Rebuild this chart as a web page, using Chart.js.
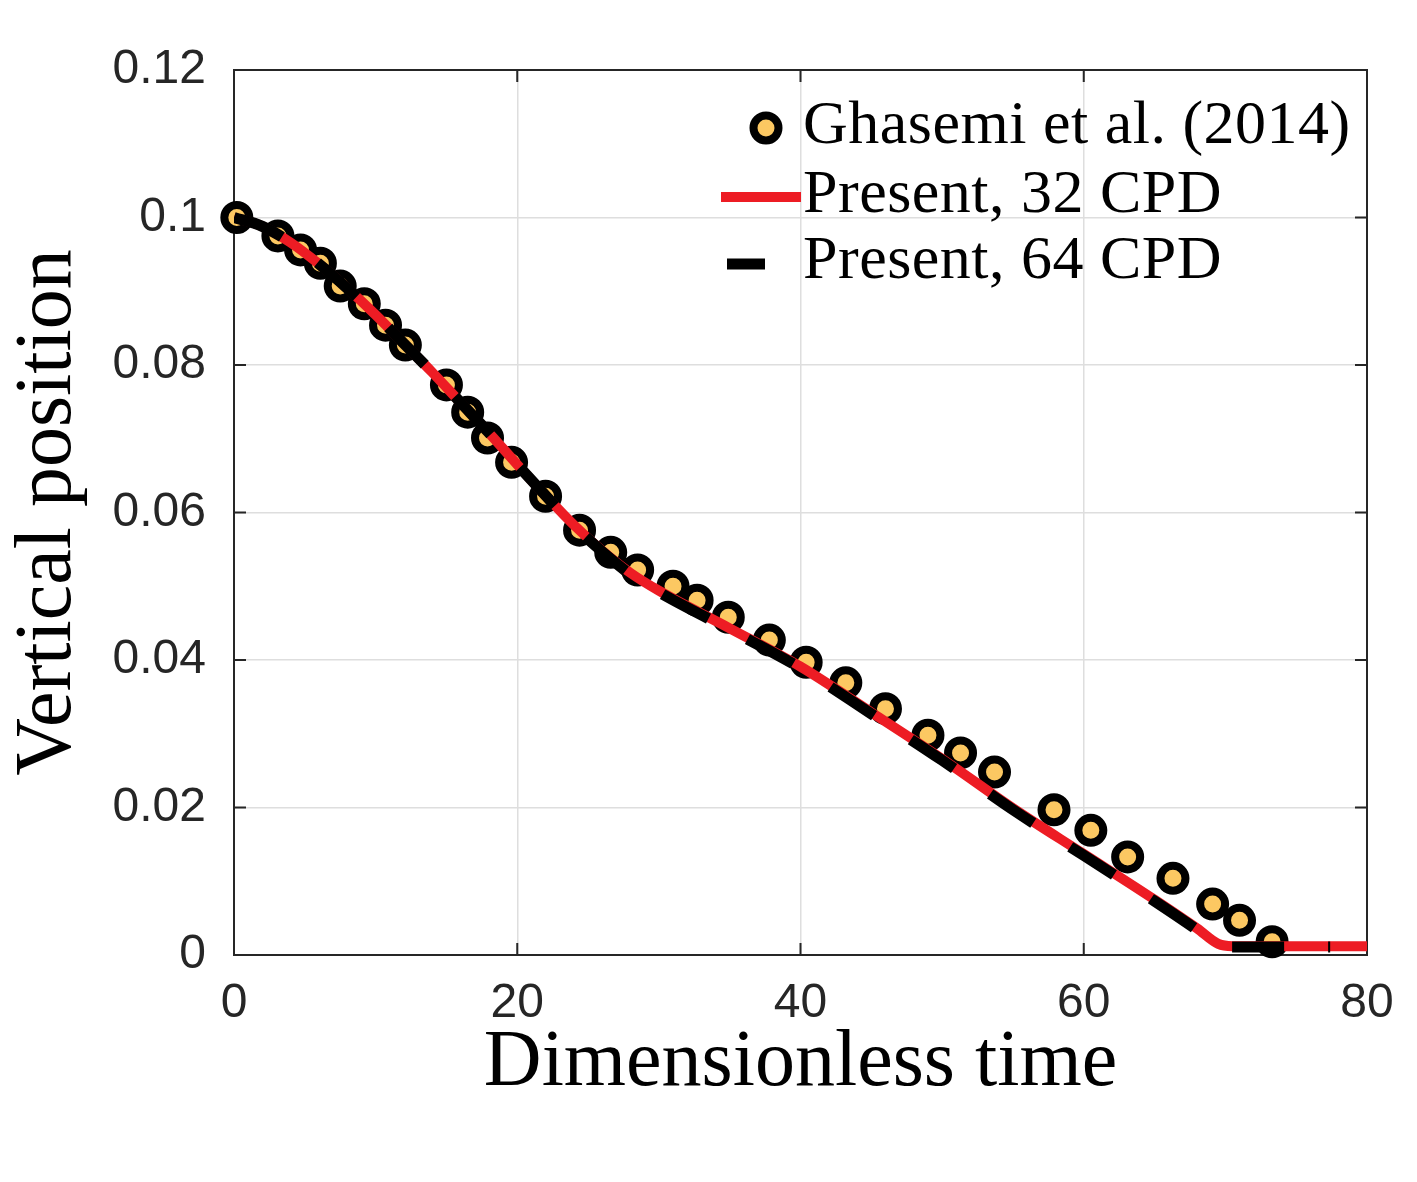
<!DOCTYPE html>
<html>
<head>
<meta charset="utf-8">
<script src="https://cdn.jsdelivr.net/npm/chart.js@4.4.1/dist/chart.umd.min.js"></script>
<style>
  html, body { margin: 0; padding: 0; background: #fff; }
  #wrap { width: 1417px; height: 1182px; }
</style>
</head>
<body>
<div id="wrap"><canvas id="myChart"></canvas></div>
<script>
// reference data (Ghasemi et al. 2014)
const refTime = [0.2, 3.1, 4.7, 6.1, 7.5, 9.2, 10.7, 12.1, 15.0, 16.5, 17.9, 19.6, 22.0, 24.4, 26.6, 28.5,
    31.0, 32.7, 34.9, 37.8, 40.4, 43.2, 46.0, 49.0, 51.3, 53.7, 57.9, 60.5, 63.1, 66.3, 69.1, 71.0, 73.3];
const refPos = [0.1, 0.0975, 0.0956, 0.0938, 0.0907, 0.0883, 0.0854, 0.0827, 0.0773, 0.0736, 0.0701, 0.0668,
    0.0622, 0.0576, 0.0546, 0.0522, 0.0500, 0.0481, 0.0458, 0.0427, 0.0397, 0.0369, 0.0334, 0.0298, 0.0274,
    0.0248, 0.0197, 0.0169, 0.0133, 0.0104, 0.0069, 0.0047, 0.0018];

// present results, 32 CPD
const time32 = [0, 2, 4, 6, 8, 10, 12, 14, 16, 18, 20, 22, 24, 26, 28, 30, 35, 40, 45, 50, 55, 60, 65, 68, 69.5, 70.5, 75, 80];
const pos32 = [0.1, 0.0988, 0.0966, 0.0937, 0.0904, 0.0868, 0.0829, 0.0790, 0.0749, 0.0708, 0.0665, 0.0623,
    0.0583, 0.0548, 0.0518, 0.0494, 0.0443, 0.0391, 0.0329, 0.0266, 0.0199, 0.0137, 0.0075, 0.0036, 0.0015, 0.0012, 0.0012, 0.0012];

// present results, 64 CPD
const time64 = [0, 2, 4, 6, 8, 10, 12, 14, 16, 18, 20, 22, 24, 26, 28, 30, 35, 40, 45, 50, 55, 60, 65, 68, 69.5, 70.5, 75, 77.4];
const pos64 = [0.1, 0.0988, 0.0966, 0.0937, 0.0904, 0.0868, 0.0829, 0.0790, 0.0749, 0.0708, 0.0665, 0.0623,
    0.0582, 0.0547, 0.0516, 0.0492, 0.0441, 0.0389, 0.0327, 0.0264, 0.0197, 0.0135, 0.0073, 0.0034, 0.0013, 0.0011, 0.0011, 0.0011];

const xTicks = [0, 20, 40, 60, 80];
const yTickLabels = ['0', '0.02', '0.04', '0.06', '0.08', '0.1', '0.12'];

const legendLabels = ['Ghasemi et al. (2014)', 'Present, 32 CPD', 'Present, 64 CPD'];

const axisColor = '#262626';
const toXY = (xs, ys) => xs.map((x, i) => ({x: x, y: ys[i]}));

// box around the plot + inward ticks (matlab style)
const boxPlugin = {
    id: 'box',
    beforeDatasetsDraw(chart) {
        const {ctx, chartArea: a, scales} = chart;
        ctx.save();
        ctx.strokeStyle = axisColor;
        ctx.lineWidth = 2;
        ctx.strokeRect(a.left, a.top, a.right - a.left, a.bottom - a.top);
        const len = 12;
        ctx.beginPath();
        scales.x.ticks.forEach(t => {
            const px = scales.x.getPixelForValue(t.value);
            ctx.moveTo(px, a.bottom); ctx.lineTo(px, a.bottom - len);
            ctx.moveTo(px, a.top); ctx.lineTo(px, a.top + len);
        });
        scales.y.ticks.forEach(t => {
            const py = scales.y.getPixelForValue(t.value);
            ctx.moveTo(a.left, py); ctx.lineTo(a.left + len, py);
            ctx.moveTo(a.right, py); ctx.lineTo(a.right - len, py);
        });
        ctx.stroke();
        ctx.restore();
    }
};

// legend inside the axes, top right
const legendPlugin = {
    id: 'innerLegend',
    afterDraw(chart) {
        const {ctx, chartArea: a} = chart;
        const ds = chart.data.datasets;
        const tx = a.left + 569;
        ctx.save();
        ctx.font = '62px "Liberation Serif", "Times New Roman", serif';
        ctx.fillStyle = '#000';
        ctx.textBaseline = 'alphabetic';
        ctx.textAlign = 'left';
        ctx.letterSpacing = '0.5px';

        // marker row
        ctx.beginPath();
        ctx.arc(a.left + 532, a.top + 58, ds[0].pointRadius, 0, Math.PI * 2);
        ctx.fillStyle = ds[0].pointBackgroundColor;
        ctx.fill();
        ctx.lineWidth = ds[0].pointBorderWidth;
        ctx.strokeStyle = ds[0].pointBorderColor;
        ctx.stroke();
        ctx.fillStyle = '#000';
        ctx.fillText(legendLabels[0], tx, a.top + 73);

        // red line
        ctx.lineCap = 'butt';
        ctx.beginPath();
        ctx.moveTo(a.left + 487, a.top + 127);
        ctx.lineTo(a.left + 567, a.top + 127);
        ctx.strokeStyle = ds[1].borderColor;
        ctx.lineWidth = ds[1].borderWidth;
        ctx.stroke();
        ctx.fillText(legendLabels[1], tx, a.top + 142);

        // black dash
        ctx.beginPath();
        ctx.moveTo(a.left + 493, a.top + 194);
        ctx.lineTo(a.left + 531, a.top + 194);
        ctx.strokeStyle = ds[2].borderColor;
        ctx.lineWidth = ds[2].borderWidth;
        ctx.stroke();
        ctx.fillText(legendLabels[2], tx, a.top + 208);
        ctx.restore();
    }
};

const ctx = document.getElementById('myChart').getContext('2d');

const myChart = new Chart(ctx, {
    type: 'scatter',
    data: {
        datasets: [{
            label: legendLabels[0],
            data: toXY(refTime, refPos),
            pointRadius: 12.5,
            pointHoverRadius: 12.5,
            pointBackgroundColor: '#fcc862',
            pointBorderColor: '#000000',
            pointBorderWidth: 8,
            showLine: false,
            clip: false,
            order: 3
        },
            {
                label: legendLabels[1],
                data: toXY(time32, pos32),
                showLine: true,
                borderColor: '#ed1c24',
                borderWidth: 10,
                pointRadius: 0,
                cubicInterpolationMode: 'monotone',
                order: 2
            },
            {
                label: legendLabels[2],
                data: toXY(time64, pos64),
                showLine: true,
                borderColor: '#000000',
                borderWidth: 11,
                borderDash: [52, 44],
                borderCapStyle: 'butt',
                pointRadius: 0,
                cubicInterpolationMode: 'monotone',
                order: 1
            },
        ]
    },
    options: {
        responsive: true,
        maintainAspectRatio: false,
        animation: false,
        layout: {
            padding: {top: 70, right: 50, bottom: 70, left: 0}
        },
        plugins: {
            legend: {display: false},
            tooltip: {enabled: false}
        },
        scales: {
            x: {
                type: 'linear',
                min: 0,
                max: 80,
                afterBuildTicks: (scale) => { scale.ticks = xTicks.map(v => ({value: v})); },
                afterFit: (scale) => { scale.height = 1182 - 70 - 955; },
                grid: {color: '#dedede', lineWidth: 1.5, drawTicks: false},
                border: {display: false},
                ticks: {
                    padding: 20,
                    color: axisColor,
                    font: {family: '"Liberation Sans", Arial, sans-serif', size: 48}
                },
                title: {
                    display: true,
                    text: 'Dimensionless time',
                    color: '#000',
                    padding: 0,
                    font: {family: '"Liberation Serif", "Times New Roman", serif', size: 80}
                }
            },
            y: {
                min: 0,
                max: 0.12,
                ticks: {
                    stepSize: 0.02,
                    padding: 28,
                    color: axisColor,
                    font: {family: '"Liberation Sans", Arial, sans-serif', size: 48},
                    callback: (v, i) => yTickLabels[i]
                },
                afterFit: (scale) => { scale.width = 234; },
                grid: {color: '#dedede', lineWidth: 1.5, drawTicks: false},
                border: {display: false},
                title: {
                    display: true,
                    text: 'Vertical position',
                    color: '#000',
                    padding: {top: 1, bottom: 0},
                    font: {family: '"Liberation Serif", "Times New Roman", serif', size: 80}
                }
            }
        }
    },
    plugins: [boxPlugin, legendPlugin]
});
</script>
</body>
</html>
